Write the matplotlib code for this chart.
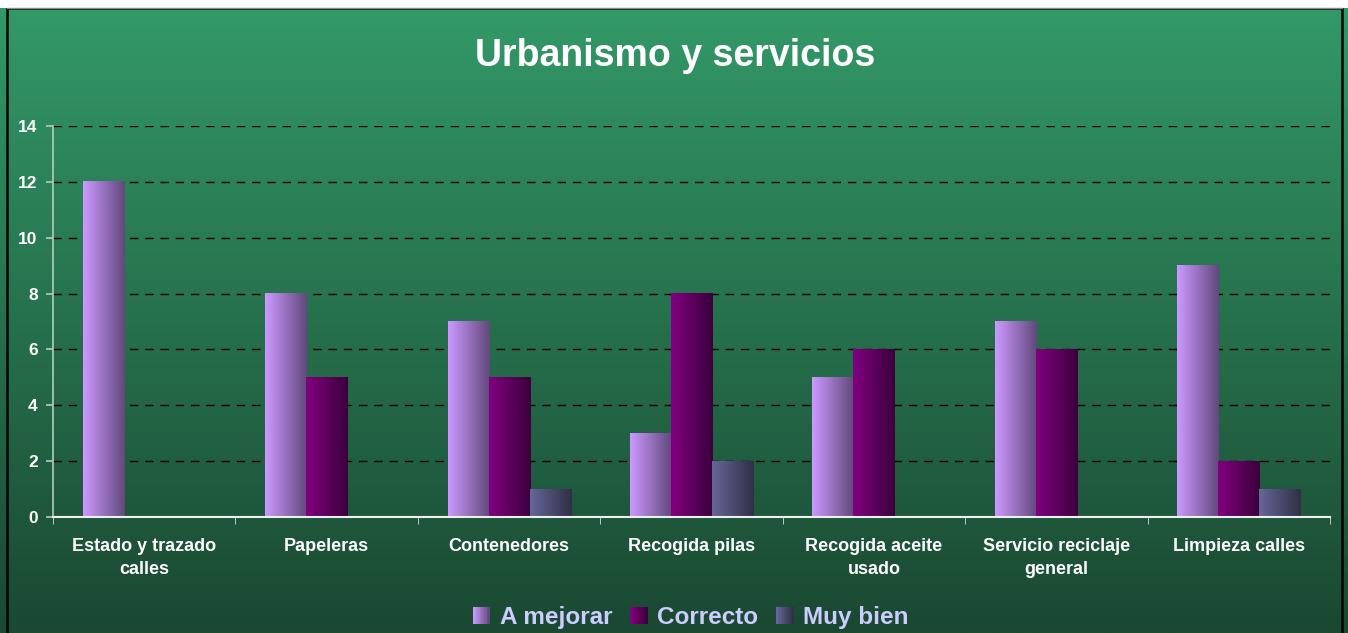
import numpy as np
import matplotlib.pyplot as plt
from matplotlib.colors import LinearSegmentedColormap, to_rgb
from matplotlib.patches import Rectangle
from matplotlib.legend_handler import HandlerBase

plt.rcParams['font.family'] = ['Liberation Sans', 'DejaVu Sans']

# Datos
categorias = ['Estado y trazado\ncalles', 'Papeleras', 'Contenedores', 'Recogida pilas',
              'Recogida aceite\nusado', 'Servicio reciclaje\ngeneral', 'Limpieza calles']
a_mejorar = [12, 8, 7, 3, 5, 7, 9]
correcto = [0, 5, 5, 8, 6, 6, 2]
muy_bien = [0, 0, 1, 2, 0, 0, 1]
series = ['A mejorar', 'Correcto', 'Muy bien']

# Degradados (izquierda -> derecha)
gradientes = [('#cc99ff', '#62497c'),
              ('#800080', '#3c003c'),
              ('#666699', '#303046')]

fig = plt.figure(figsize=(13.48, 6.33), dpi=100)

# Fondo con degradado vertical
bg = fig.add_axes([0, 0, 1, 1], zorder=-10)
bg_cmap = LinearSegmentedColormap.from_list('bg', ['#1a4832', '#339a69'])
bg.imshow(np.linspace(0, 1, 256).reshape(-1, 1), aspect='auto', cmap=bg_cmap,
          origin='lower', extent=(0, 1, 0, 1))
bg.set_xlim(0, 1)
bg.set_ylim(0, 1)
bg.axis('off')
bg.add_patch(Rectangle((0.0050, -0.01), 0.9907, 0.998, fill=False, edgecolor='black', linewidth=1.8))
bg.add_patch(Rectangle((0, 0.988), 1, 0.012, facecolor='white', edgecolor='none'))
bg.plot([0.005, 0.9957], [0.9875, 0.9875], color='#888888', linewidth=1)

ax = fig.add_axes([53 / 1348, 1 - 517 / 633, (1330 - 53) / 1348, (517 - 126) / 633])
ax.patch.set_alpha(0)

x = np.arange(len(categorias))
w = 0.225
valores = [a_mejorar, correcto, muy_bien]
for i, vals in enumerate(valores):
    bars = ax.bar(x + (i - 1) * w, vals, width=w, color='none', edgecolor='none', zorder=3)
    cmap = LinearSegmentedColormap.from_list('g%d' % i, gradientes[i])
    for b in bars:
        h = b.get_height()
        if h <= 0:
            continue
        x0 = b.get_x()
        ax.imshow(np.linspace(0, 1, 64).reshape(1, -1), cmap=cmap, aspect='auto',
                  extent=(x0, x0 + b.get_width(), 0, h), zorder=3, interpolation='bilinear')

ax.set_xlim(-0.5, len(categorias) - 0.5)
ax.set_ylim(0, 14)
ax.set_yticks(range(0, 15, 2))
ax.set_xticks(x)
ax.set_xticklabels(categorias, color='white', fontsize=13, fontweight='bold', linespacing=1.45)
ax.set_xticks(np.arange(-0.5, len(categorias)), minor=True)
ax.tick_params(axis='x', which='major', length=0, pad=15)
ax.tick_params(axis='x', which='minor', length=5, color='#dddddd', direction='out')
ax.tick_params(axis='y', colors='white', labelsize=12.5, length=5, width=1.2, pad=6)
for lab in ax.get_yticklabels():
    lab.set_fontweight('bold')
ax.tick_params(axis='y', color='#b0cfbc')

ax.grid(axis='y', color='black', linestyle=(0, (6, 5)), linewidth=1, zorder=1)
for s in ['top', 'right']:
    ax.spines[s].set_visible(False)
ax.spines['left'].set_color('#b0cfbc')
ax.spines['left'].set_linewidth(1.2)
ax.spines['bottom'].set_color('#f0f0f0')
ax.spines['bottom'].set_linewidth(1.5)
ax.spines['bottom'].set_zorder(4)


# Leyenda con cuadros degradados
class HandlerGrad(HandlerBase):
    def __init__(self, c1, c2):
        super().__init__()
        self.c1 = np.array(to_rgb(c1))
        self.c2 = np.array(to_rgb(c2))

    def create_artists(self, legend, orig_handle, xdescent, ydescent, width, height, fontsize, trans):
        n = 12
        side = height * 1.0
        x0 = xdescent + width - side
        y0 = -ydescent - (side - height) / 2
        arts = []
        for k in range(n):
            t = k / (n - 1)
            c = self.c1 * (1 - t) + self.c2 * t
            arts.append(Rectangle((x0 + k * side / n, y0), side / n + 0.3, side,
                                  facecolor=c, edgecolor='none', transform=trans))
        return arts


handles = [Rectangle((0, 0), 1, 1) for _ in series]
hmap = {h: HandlerGrad(*g) for h, g in zip(handles, gradientes)}
leg = fig.legend(handles, series, handler_map=hmap, loc='center', bbox_to_anchor=(0.512, 0.025),
                 ncol=3, frameon=False, handlelength=0.75, handletextpad=0.4,
                 columnspacing=0.7, prop={'weight': 'bold', 'size': 17.5})
for t in leg.get_texts():
    t.set_color('#ccccff')

fig.text(0.501, 0.912, 'Urbanismo y servicios', ha='center', va='center', color='white',
         fontsize=27, fontweight='bold')

fig.savefig('out.png', dpi=100)
